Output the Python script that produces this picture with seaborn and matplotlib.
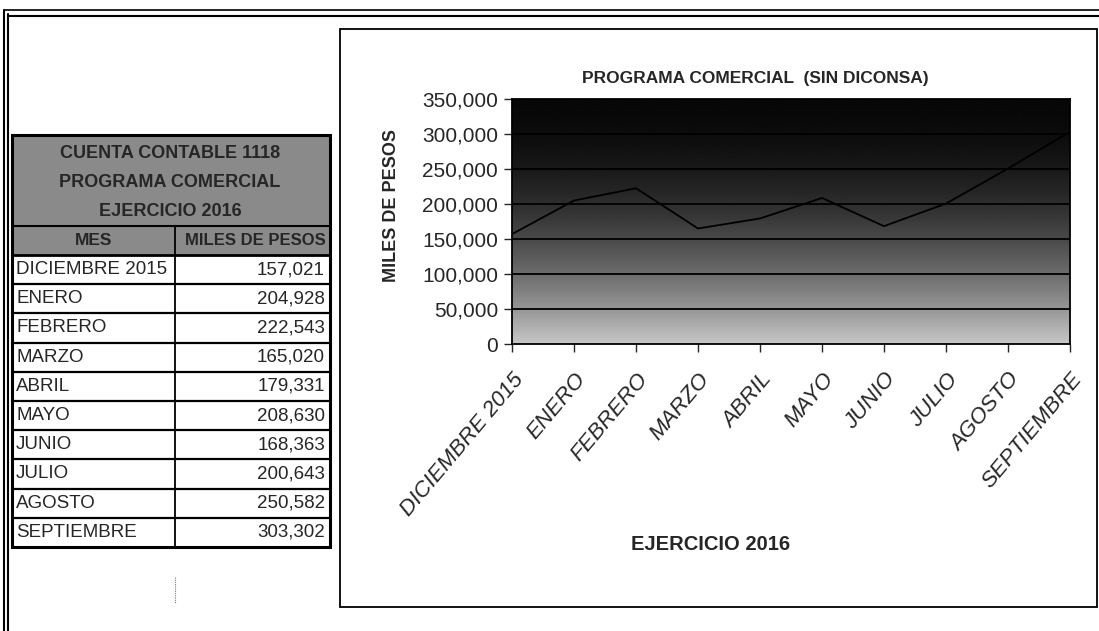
import matplotlib
matplotlib.use("Agg")
import matplotlib.pyplot as plt
import numpy as np
import pandas as pd
import seaborn as sns
from matplotlib.patches import Rectangle
from matplotlib.ticker import FuncFormatter

# data
meses = ["DICIEMBRE 2015", "ENERO", "FEBRERO", "MARZO", "ABRIL",
         "MAYO", "JUNIO", "JULIO", "AGOSTO", "SEPTIEMBRE"]
miles_pesos = [157021, 204928, 222543, 165020, 179331,
               208630, 168363, 200643, 250582, 303302]
titulo_tabla = ["CUENTA CONTABLE 1118", "PROGRAMA COMERCIAL", "EJERCICIO 2016"]
encabezados = ["MES", "MILES DE PESOS"]
y_ticks = [0, 50000, 100000, 150000, 200000, 250000, 300000, 350000]

df = pd.DataFrame({"mes": meses, "valor": miles_pesos})
df["pos"] = range(len(df))

sns.set_style("white")
plt.rcParams["font.family"] = ["Liberation Sans", "DejaVu Sans"]

W, H = 1099, 631
fig = plt.figure(figsize=(W / 100, H / 100), dpi=100)

# page layer in pixel coordinates (table, frames)
page = fig.add_axes([0, 0, 1, 1])
page.set_xlim(0, W)
page.set_ylim(H, 0)
page.axis("off")

# page borders (scan edges)
page.plot([4, 4], [10, H], color="black", lw=1.5)
page.plot([8, 8], [14, H], color="black", lw=1.5)
page.plot([4, W], [10, 10], color="black", lw=1.2)
page.plot([8, W], [16, 16], color="black", lw=1.5)

# chart frame
page.add_patch(Rectangle((340, 29), 757, 578, fill=False, ec="black", lw=1.3))

# table
tl, tr, cs = 12, 330, 175
t_top, title_h, head_h, row_h = 135, 91, 29, 29.2
head_top = t_top + title_h
data_top = head_top + head_h
t_bot = data_top + row_h * len(meses)

page.add_patch(Rectangle((tl, t_top), tr - tl, data_top - t_top,
                         fc="#8a8a8a", ec="none"))
page.add_patch(Rectangle((tl, t_top), tr - tl, t_bot - t_top,
                         fill=False, ec="black", lw=2.2))
page.plot([tl, tr], [head_top, head_top], color="black", lw=1.5)
page.plot([tl, tr], [data_top, data_top], color="black", lw=2)
page.plot([cs, cs], [head_top, t_bot], color="black", lw=1.3)
for i in range(1, len(meses)):
    yy = data_top + row_h * i
    page.plot([tl, tr], [yy, yy], color="black", lw=1.6)

for i, txt in enumerate(titulo_tabla):
    page.text(170, t_top + 18 + 29.5 * i, txt, ha="center", va="center",
              fontsize=13, fontweight="bold")
page.text(94, head_top + head_h / 2, encabezados[0], ha="center",
          va="center", fontsize=12.5, fontweight="bold")
page.text(tr - 4, head_top + head_h / 2, encabezados[1], ha="right",
          va="center", fontsize=12, fontweight="bold")
for i, (m, v) in enumerate(zip(meses, miles_pesos)):
    yy = data_top + row_h * (i + 0.5)
    page.text(tl + 4, yy, m, ha="left", va="center", fontsize=13.5)
    page.text(tr - 5, yy, f"{v:,}", ha="right", va="center", fontsize=13.5)

# faint scan artefact
page.plot([175, 175], [577, 603], color="#777777", lw=0.8, ls=(0, (1, 1)))

# chart
ax = fig.add_axes([512 / W, 1 - 344 / H, (1070 - 512) / W, (344 - 99) / H])
grad = np.linspace(1, 0, 256)[:, None]
shade = 0.03 + 0.75 * (1 - grad) ** 1.9
ax.imshow(shade, extent=[0, 1, 0, 1], transform=ax.transAxes, aspect="auto",
          cmap="gray", vmin=0, vmax=1, zorder=0, interpolation="bilinear")
for yv in y_ticks[1:]:
    ax.axhline(yv, color="black", lw=1.3, zorder=1)

sns.lineplot(data=df, x="pos", y="valor", color="black", lw=1.3, ax=ax, zorder=2)

ax.set_xlim(0, len(meses) - 1)
ax.set_ylim(0, 350000)
ax.set_yticks(y_ticks)
ax.yaxis.set_major_formatter(FuncFormatter(lambda v, p: f"{int(v):,}"))
ax.set_xticks(df["pos"])
ax.set_xticklabels(meses, rotation=50, ha="right", rotation_mode="anchor",
                   fontstyle="italic", fontsize=16)
ax.tick_params(axis="y", labelsize=15, length=6, width=1, direction="out",
               left=True, pad=4)
ax.tick_params(axis="x", length=6, width=1, direction="out", bottom=True, pad=12)
for s in ax.spines.values():
    s.set_color("black")
    s.set_linewidth(1.3)
ax.set_xlabel("")
ax.set_ylabel("")

fig.text(755 / W, 1 - 78 / H, "PROGRAMA COMERCIAL  (SIN DICONSA)", ha="center",
         va="center", fontsize=12.5, fontweight="bold")
fig.text(391 / W, 1 - 205 / H, "MILES DE PESOS", ha="center", va="center",
         rotation=90, fontsize=13, fontweight="bold")
fig.text(711 / W, 1 - 545 / H, "EJERCICIO 2016", ha="center", va="center",
         fontsize=14.5, fontweight="bold")

fig.savefig("out.png", dpi=100, facecolor="white")
